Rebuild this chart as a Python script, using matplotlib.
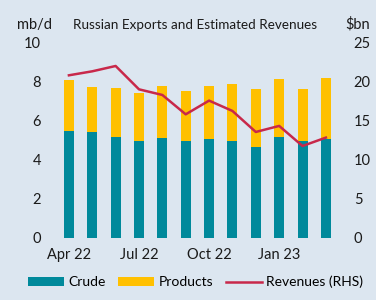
import numpy as np
import matplotlib.pyplot as plt

plt.rcParams['font.family'] = ['Lato', 'DejaVu Sans']

months = ['Apr 22', 'May 22', 'Jun 22', 'Jul 22', 'Aug 22', 'Sep 22',
          'Oct 22', 'Nov 22', 'Dec 22', 'Jan 23', 'Feb 23', 'Mar 23']
crude = [5.47, 5.42, 5.17, 4.95, 5.12, 4.95, 5.07, 4.95, 4.66, 5.17, 4.95, 5.03]
total = [8.04, 7.72, 7.65, 7.42, 7.74, 7.48, 7.77, 7.84, 7.59, 8.11, 7.60, 8.16]
revenues = [20.75, 21.26, 21.94, 18.96, 18.24, 15.77, 17.52, 16.2, 13.52, 14.29, 11.73, 12.8]
products = [t - c for t, c in zip(total, crude)]

bg = '#dce6f0'
teal = '#00899b'
yellow = '#ffc000'
red = '#c8284a'

fig = plt.figure(figsize=(3.76, 3.0), dpi=100, facecolor=bg)
ax = fig.add_axes([0.146, 0.207, 0.758, 0.653])
ax.set_facecolor(bg)
x = np.arange(len(months))
ax.bar(x, crude, width=0.43, color=teal, label='Crude')
ax.bar(x, products, width=0.43, bottom=crude, color=yellow, label='Products')
ax.set_ylim(0, 10)
ax.set_xlim(-0.6, 11.6)
ax.set_yticks([0, 2, 4, 6, 8, 10])
ax.set_xticks(x[::3])
ax.set_xticklabels(months[::3])

ax2 = ax.twinx()
ax2.plot(x, revenues, color=red, lw=1.8, label='Revenues (RHS)')
ax2.set_ylim(0, 25)
ax2.set_yticks([0, 5, 10, 15, 20, 25])

for a in (ax, ax2):
    for s in a.spines.values():
        s.set_visible(False)
    a.tick_params(length=0, labelsize=10.5, colors='#1a1a1a')
ax.tick_params(axis='y', pad=10)
ax.tick_params(axis='x', pad=7)
ax2.tick_params(axis='y', pad=10)

fig.text(0.518, 0.918, 'Russian Exports and Estimated Revenues', ha='center', va='center', fontsize=9.7, color='#1a1a1a')
fig.text(0.093, 0.918, 'mb/d', ha='center', va='center', fontsize=10.5, color='#1a1a1a')
fig.text(0.951, 0.918, '$bn', ha='center', va='center', fontsize=10.5, color='#1a1a1a')

h1, l1 = ax.get_legend_handles_labels()
h2, l2 = ax2.get_legend_handles_labels()
fig.legend(h1 + h2, l1 + l2, loc='center', bbox_to_anchor=(0.52, 0.06), ncol=3,
           frameon=False, fontsize=10, handlelength=2.6, handleheight=0.6,
           columnspacing=0.9, handletextpad=0.3)

fig.savefig('out.png', dpi=100, facecolor=bg)
